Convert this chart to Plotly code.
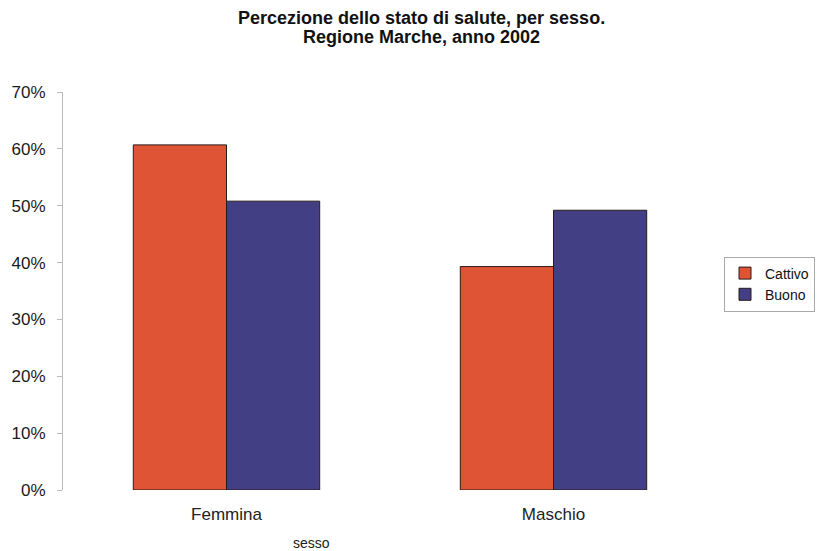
import plotly.graph_objects as go

categories = ["Femmina", "Maschio"]
cattivo = [60.7, 39.3]
buono = [50.8, 49.2]
y_ticks = [0, 10, 20, 30, 40, 50, 60, 70]
y_tick_labels = [f"{v}%" for v in y_ticks]
title_lines = ["Percezione dello stato di salute, per sesso.", "Regione Marche, anno 2002"]

RED = "#E05436"
BLUE = "#433F85"
FONT = "Liberation Sans, Arial, sans-serif"
W, H = 817, 551
L, R, T, B = 63, 100, 92, 61
plot_w, plot_h = W - L - R, H - T - B


def px_to_paper(x_px, y_px):
    return (x_px - L) / plot_w, (H - B - y_px) / plot_h


fig = go.Figure()
fig.add_trace(go.Bar(name="Cattivo", x=categories, y=cattivo,
                     marker=dict(color=RED, line=dict(color="#2a1a1a", width=1))))
fig.add_trace(go.Bar(name="Buono", x=categories, y=buono,
                     marker=dict(color=BLUE, line=dict(color="#2a1a1a", width=1))))

fig.update_layout(
    width=W, height=H,
    margin=dict(l=L, r=R, t=T, b=B, autoexpand=False),
    paper_bgcolor="white", plot_bgcolor="white",
    font=dict(family=FONT, size=17, color="#222"),
    barmode="group", bargap=0.43, bargroupgap=0,
    legend=dict(xref="container", yref="container", x=724 / W, y=1 - 284 / H,
                xanchor="left", yanchor="middle",
                bordercolor="#aaa", borderwidth=1, font=dict(size=14, color="#111"),
                itemwidth=30, tracegroupgap=0),
    showlegend=True,
)
fig.update_xaxes(showline=False, ticks="", showgrid=False, ticklabelstandoff=12,
                 tickfont=dict(size=17, color="#222"))
fig.update_yaxes(range=[0, 70], tickvals=y_ticks, ticktext=y_tick_labels,
                 showgrid=False, zeroline=False, showline=True, linecolor="#bbb",
                 linewidth=1, ticks="outside", ticklen=5, tickcolor="#bbb",
                 ticklabelstandoff=8, tickfont=dict(size=17, color="#1a1a1a"))

# two-line bold title, drawn line by line for tighter spacing
for line, y_px in zip(title_lines, [18, 37]):
    xp, yp = px_to_paper(421, y_px)
    fig.add_annotation(text=f"<b>{line}</b>", xref="paper", yref="paper", x=xp, y=yp,
                       xanchor="center", yanchor="middle", showarrow=False,
                       font=dict(family=FONT, size=18, color="#111"))

# axis title below the categories
xp, yp = px_to_paper(311, 543)
fig.add_annotation(text="sesso", xref="paper", yref="paper", x=xp, y=yp,
                   xanchor="center", yanchor="middle", showarrow=False,
                   font=dict(size=14, color="#222"))

fig.write_html("out.html")
